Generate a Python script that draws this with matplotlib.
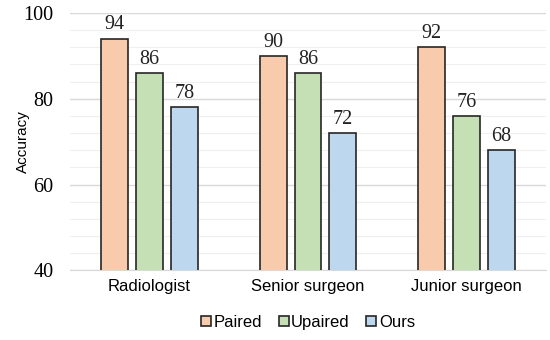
import numpy as np
import matplotlib.pyplot as plt
from matplotlib.ticker import MultipleLocator

# Data
categories = ['Radiologist', 'Senior surgeon', 'Junior surgeon']
series_names = ['Paired', 'Upaired', 'Ours']
paired = [94, 90, 92]
upaired = [86, 86, 76]
ours = [78, 72, 68]
colors = ['#F8CBAD', '#C5E0B4', '#BDD7EE']

fig = plt.figure(figsize=(5.5, 3.4), dpi=100)
ax = fig.add_axes([0.128, 0.205, 0.864, 0.757])

x = np.arange(len(categories))
width = 0.17
step = 0.22
for i, (vals, name, c) in enumerate(zip([paired, upaired, ours], series_names, colors)):
    pos = x + (i - 1) * step
    ax.bar(pos, vals, width, color=c, edgecolor='#262626', linewidth=1.2,
           label=name, zorder=3)
    for p, v in zip(pos, vals):
        ax.text(p, v + 1.0, str(v), ha='center', va='bottom',
                family='Liberation Serif', fontsize=14.5, color='#222222')

ax.set_ylim(40, 100)
ax.set_xlim(-0.5, 2.5)
ax.yaxis.set_major_locator(MultipleLocator(20))
ax.yaxis.set_minor_locator(MultipleLocator(4))
ax.grid(True, which='major', axis='y', color='#d9d9d9', linewidth=1.0, zorder=0)
ax.grid(True, which='minor', axis='y', color='#efefef', linewidth=0.8, zorder=0)

for s in ['top', 'right', 'left']:
    ax.spines[s].set_visible(False)
ax.spines['bottom'].set_color('#d9d9d9')

ax.tick_params(axis='both', which='both', length=0)
ax.set_xticks(x)
ax.set_xticklabels(categories, family='Liberation Sans', fontsize=12)
ax.tick_params(axis='x', pad=6)
for lbl in ax.get_yticklabels():
    lbl.set_family('Liberation Serif')
    lbl.set_fontsize(14.5)
ax.tick_params(axis='y', pad=12)
ax.set_ylabel('Accuracy', family='Liberation Sans', fontsize=11)
ax.yaxis.set_label_coords(-0.085, 0.5)

ax.legend(loc='upper center', bbox_to_anchor=(0.5, -0.115), ncol=3, frameon=False,
          prop={'family': 'Liberation Sans', 'size': 12}, handlelength=0.6,
          handleheight=0.6, handletextpad=0.15, columnspacing=1.0)

fig.savefig('out.png', dpi=100)
